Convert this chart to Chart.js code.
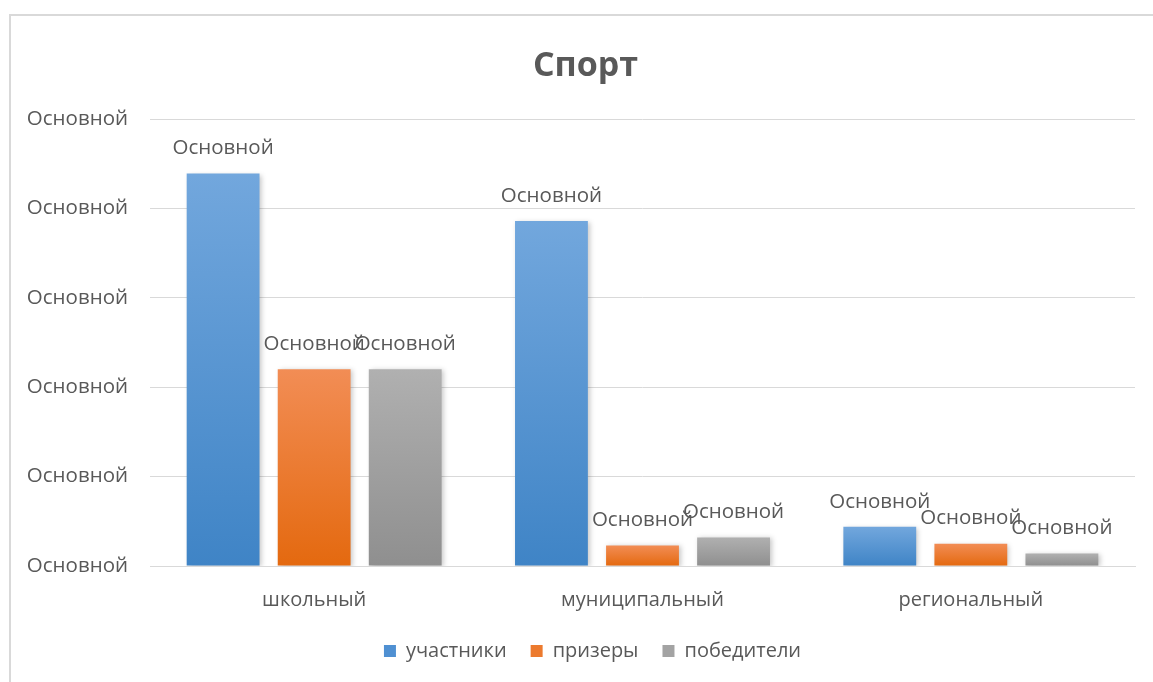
<!DOCTYPE html>
<html>
<head>
<meta charset="utf-8">
<script src="https://cdn.jsdelivr.net/npm/chart.js@4"></script>
<style>
    html, body { margin: 0; padding: 0; background: #fff; overflow: hidden; }
    .frame { position: absolute; left: 9px; top: 14px; width: 1200px; height: 720px; border: 2px solid #d9d9d9; }
    .box { position: absolute; left: 0; top: 0; width: 1153px; height: 682px; }
</style>
</head>
<body>
<div class="frame"></div>
<div class="box"><canvas id="myChart"></canvas></div>
<script>
// Chart data
const categories = ['школьный', 'муниципальный', 'региональный'];
const seriesNames = ['участники', 'призеры', 'победители'];
const uchastniki = [43.9, 38.6, 4.4];
const prizery = [22, 2.3, 2.5];
const pobediteli = [22, 3.2, 1.4];
const yTicks = [0, 10, 20, 30, 40, 50];
const tickLabel = 'Основной';   // broken number format in the source, every label reads like this

// Gradient colours: top, bottom
const palette = [
    ['#72a7dd', '#3f84c6'],
    ['#f28d55', '#e4690f'],
    ['#b0b0b0', '#8f8f8f']
];
const legendColors = ['#4f90d2', '#ec7a2e', '#a3a3a3'];
const textColor = '#595959';
const fontFamily = '"Open Sans", "Noto Sans", sans-serif';

// Per-bar vertical gradient
function barGradient(i) {
    return function(context) {
        const chart = context.chart;
        const yScale = chart.scales.y;
        if (!yScale || context.parsed === undefined) return palette[i][1];
        const top = yScale.getPixelForValue(context.parsed.y);
        const base = yScale.getPixelForValue(0);
        if (!isFinite(top) || !isFinite(base) || top === base) return palette[i][1];
        const g = chart.ctx.createLinearGradient(0, top, 0, base);
        g.addColorStop(0, palette[i][0]);
        g.addColorStop(1, palette[i][1]);
        return g;
    };
}

// The original frame is wider than the window, so title and legend sit a bit right of centre
const shiftPlugin = {
    id: 'shift',
    afterLayout(chart) {
        chart.titleBlock.left += 36;
        chart.legend.left += 50;
    }
};

// Bar shadow, like the office chart
const shadowPlugin = {
    id: 'shadow',
    beforeDatasetsDraw(chart) {
        const ctx = chart.ctx;
        ctx.save();
        ctx.shadowColor = 'rgba(0,0,0,0.22)';
        ctx.shadowBlur = 5;
        ctx.shadowOffsetX = 2;
        ctx.shadowOffsetY = 1;
    },
    afterDatasetsDraw(chart) {
        chart.ctx.restore();
    }
};

// Data labels above each bar
const labelPlugin = {
    id: 'barLabels',
    afterDatasetsDraw(chart) {
        const ctx = chart.ctx;
        ctx.save();
        ctx.font = '20.5px ' + fontFamily;
        ctx.fillStyle = textColor;
        ctx.textAlign = 'center';
        ctx.textBaseline = 'middle';
        chart.data.datasets.forEach(function(ds, i) {
            chart.getDatasetMeta(i).data.forEach(function(bar) {
                ctx.fillText(tickLabel, bar.x, bar.y - 25);
            });
        });
        ctx.restore();
    }
};

const ctx = document.getElementById('myChart').getContext('2d');
const chart = new Chart(ctx, {
    type: 'bar',
    data: {
        labels: categories,
        datasets: [uchastniki, prizery, pobediteli].map(function(values, i) {
            return {
                label: seriesNames[i],
                data: values,
                backgroundColor: barGradient(i),
                borderWidth: 0,
                categoryPercentage: 0.832,
                barPercentage: 0.8
            };
        })
    },
    options: {
        responsive: true,
        maintainAspectRatio: false,
        animation: false,
        layout: { padding: { left: 0, right: 18, top: 14, bottom: 11 } },
        plugins: {
            title: {
                display: true,
                text: 'Спорт',
                color: textColor,
                font: { family: fontFamily, size: 34, weight: 'bold' },
                padding: { top: 31.6, bottom: 32.6 }
            },
            legend: {
                position: 'bottom',
                labels: {
                    color: textColor,
                    font: { family: fontFamily, size: 20 },
                    boxWidth: 12,
                    boxHeight: 12,
                    padding: 24,
                    generateLabels: function(chart) {
                        return seriesNames.map(function(name, i) {
                            return {
                                text: name,
                                fillStyle: legendColors[i],
                                strokeStyle: legendColors[i],
                                lineWidth: 0,
                                fontColor: textColor,
                                datasetIndex: i,
                                hidden: false
                            };
                        });
                    }
                }
            },
            tooltip: { enabled: false }
        },
        scales: {
            x: {
                grid: { display: false, drawTicks: false },
                border: { display: true, color: '#d9d9d9', width: 1 },
                ticks: {
                    color: textColor,
                    font: { family: fontFamily, size: 20 },
                    padding: 22
                },
                afterFit: function(scale) { scale.height = 51; }
            },
            y: {
                min: yTicks[0],
                max: yTicks[yTicks.length - 1],
                afterBuildTicks: function(scale) {
                    scale.ticks = yTicks.map(function(v) { return { value: v }; });
                },
                grid: { color: '#d9d9d9', lineWidth: 1, drawTicks: false },
                border: { display: false },
                ticks: {
                    color: textColor,
                    font: { family: fontFamily, size: 20.5 },
                    padding: 22,
                    callback: function() { return tickLabel; }
                },
                afterFit: function(scale) { scale.width = 150; }
            }
        }
    },
    plugins: [shiftPlugin, shadowPlugin, labelPlugin]
});
</script>
</body>
</html>
